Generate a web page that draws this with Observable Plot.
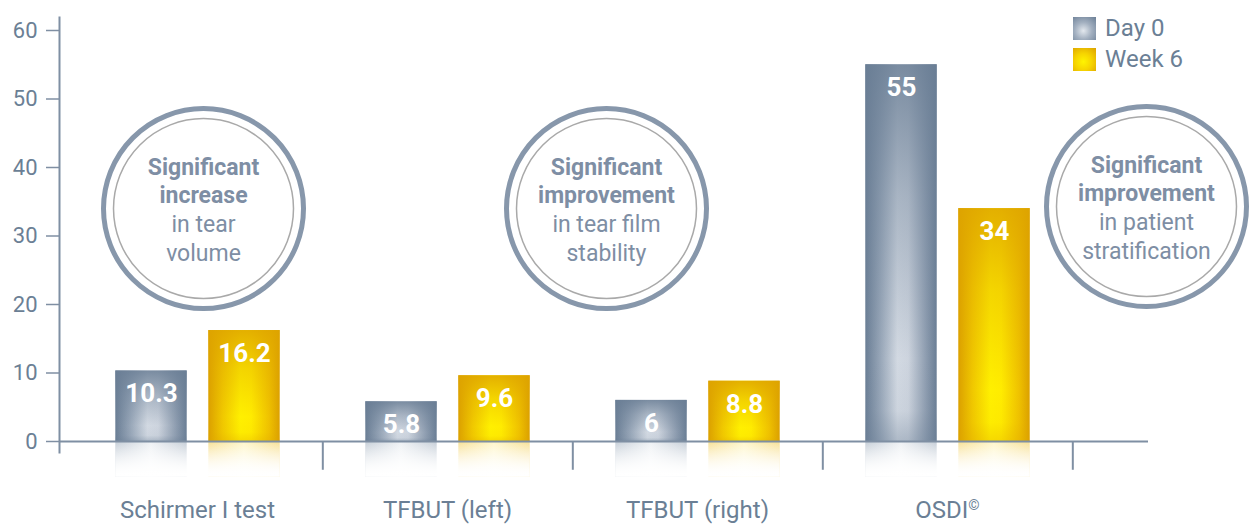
<!DOCTYPE html>
<html><head><meta charset="utf-8">
<script src="https://cdn.jsdelivr.net/npm/d3@7"></script>
<script src="https://cdn.jsdelivr.net/npm/@observablehq/plot@0.6"></script>
<style>
body{margin:0;background:#fff;font-family:Roboto,sans-serif;}
#wrap{position:relative;width:1257px;height:525px;}
#legend{position:absolute;left:1073px;top:17px;}
.item{display:flex;align-items:center;height:23px;margin-bottom:8px;font-size:24px;color:#6b7f95;line-height:23px;}
.sw{width:23px;height:23px;margin-right:9px;flex:none;}
</style></head><body><div id="wrap"><div id="legend"></div></div>
<script>
const groups = ["Schirmer I test", "TFBUT (left)", "TFBUT (right)", "OSDI©"];
const series = ["Day 0", "Week 6"];
const day0 = [10.3, 5.8, 6, 55];
const week6 = [16.2, 9.6, 8.8, 34];
const yTicks = [0, 10, 20, 30, 40, 50, 60];
const noteGroups = ["Schirmer I test", "TFBUT (left)", "OSDI©"];
const noteValues = [34, 34, 34.3];
const noteBold = ["Significant\nincrease", "Significant\nimprovement", "Significant\nimprovement"];
const noteText = ["in tear\nvolume", "in tear film\nstability", "in patient\nstratification"];

const rows = groups.flatMap((g, i) => [
  {group: g, series: series[0], value: day0[i]},
  {group: g, series: series[1], value: week6[i]}
]);
const rows0 = rows.filter(d => d.series === series[0]);
const rows1 = rows.filter(d => d.series === series[1]);
const notes = noteGroups.map((g, i) => ({group: g, value: noteValues[i], bold: noteBold[i], text: noteText[i]}));

// layout
const xRange = [71, 1073.5];
const bw = (xRange[1] - xRange[0]) / groups.length;
const half = bw / 2;
const off0 = [-82, -10];  // Day 0 bar edges relative to band center
const off1 = [11, 83];    // Week 6 bar edges relative to band center
const ins0 = {insetLeft: half + off0[0], insetRight: half - off0[1]};
const ins1 = {insetLeft: half + off1[0], insetRight: half - off1[1]};
const noteDx = [6, 159, 199];
const axisColor = "#7f8fa3";
const textColor = "#6b7f95";
const noteColor = "#7e8ea4";

const defs = () => {
  const d = d3.create("svg:defs");
  function lin(id, x2, y2, stops) {
    const g = d.append("linearGradient").attr("id", id)
      .attr("x1", 0).attr("y1", 0).attr("x2", x2).attr("y2", y2);
    stops.forEach(([o, c, a]) => g.append("stop").attr("offset", o).attr("stop-color", c).attr("stop-opacity", a ?? 1));
  }
  lin("g0", 1, 0, [[0, "#6a7e95"], [0.2, "#95a4b6"], [0.45, "#d2d9e2"], [0.6, "#cdd4de"], [0.85, "#8e9db0"], [1, "#6a7e95"]]);
  lin("v0", 0, 1, [[0, "#6a7e95", 0.85], [0.35, "#6a7e95", 0.4], [0.78, "#6a7e95", 0], [0.92, "#6a7e95", 0.05], [1, "#6a7e95", 0.35]]);
  lin("g1", 1, 0, [[0, "#dba000"], [0.2, "#f0c800"], [0.45, "#fff000"], [0.6, "#ffec00"], [0.85, "#efc200"], [1, "#dba000"]]);
  lin("v1", 0, 1, [[0, "#dea400", 0.85], [0.35, "#dea400", 0.35], [0.78, "#dea400", 0], [0.92, "#dea400", 0.05], [1, "#dea400", 0.3]]);
  lin("r0", 1, 0, [[0, "#c3ccd6"], [0.5, "#eef1f4"], [1, "#c3ccd6"]]);
  lin("r1", 1, 0, [[0, "#f7df90"], [0.5, "#fff6c8"], [1, "#f7df90"]]);
  lin("fade", 0, 1, [[0, "#ffffff", 0], [1, "#ffffff", 1]]);
  return d.node();
};

const noteMarks = notes.flatMap((n, i) => [
  Plot.dot([n], {x: "group", y: "value", dx: noteDx[i], r: 100, stroke: "#8797ab", strokeWidth: 5, fill: "white"}),
  Plot.dot([n], {x: "group", y: "value", dx: noteDx[i], r: 90, stroke: "#a9a9a9", strokeWidth: 1.5, fill: "none"}),
  Plot.text([n], {x: "group", y: "value", text: "bold", dx: noteDx[i], dy: -28.7, lineHeight: 1.25, fontSize: 23, fontWeight: "bold", fill: noteColor}),
  Plot.text([n], {x: "group", y: "value", text: "text", dx: noteDx[i], dy: 28.7, lineHeight: 1.25, fontSize: 23, fill: noteColor})
]);

const chart = Plot.plot({
  width: 1257,
  height: 525,
  marginLeft: 59,
  marginRight: 109,
  marginTop: 17,
  marginBottom: 73,
  style: {fontFamily: "Roboto, sans-serif", background: "white"},
  x: {type: "band", domain: groups, range: xRange, padding: 0, axis: null, label: null},
  y: {domain: [0, 60], range: [441, 30], axis: null, label: null},
  marks: [
    defs,
    // reflections
    Plot.barY(rows0, {x: "group", y1: 0, y2: -5.2, fill: "url(#r0)", ...ins0}),
    Plot.barY(rows1, {x: "group", y1: 0, y2: -5.2, fill: "url(#r1)", ...ins1}),
    Plot.barY(rows, {x: "group", y1: 0, y2: -5.2, fill: "url(#fade)", insetLeft: half + off0[0], insetRight: half - off1[1]}),
    // bars
    Plot.barY(rows0, {x: "group", y: "value", fill: "url(#g0)", ...ins0}),
    Plot.barY(rows0, {x: "group", y: "value", fill: "url(#v0)", ...ins0}),
    Plot.barY(rows1, {x: "group", y: "value", fill: "url(#g1)", ...ins1}),
    Plot.barY(rows1, {x: "group", y: "value", fill: "url(#v1)", ...ins1}),
    // value labels
    Plot.text(rows0, {x: "group", y: "value", text: d => String(d.value), dx: (off0[0] + off0[1]) / 2, dy: 23, fill: "white", fontWeight: "bold", fontSize: 26}),
    Plot.text(rows1, {x: "group", y: "value", text: d => String(d.value), dx: (off1[0] + off1[1]) / 2, dy: 23, fill: "white", fontWeight: "bold", fontSize: 26}),
    // axes
    Plot.frame({anchor: "left", stroke: axisColor, strokeWidth: 2}),
    Plot.ruleY([0], {stroke: axisColor, strokeWidth: 2}),
    Plot.ruleX(groups, {x: d => d, dx: half, y1: 0, y2: -4.2, stroke: axisColor, strokeWidth: 2}),
    Plot.axisY({ticks: yTicks, tickSize: 13, tickPadding: 9, fontSize: 22, color: textColor, strokeWidth: 1.5, stroke: axisColor, label: null}),
    Plot.axisX({tickSize: 0, tickPadding: 48, fontSize: 24, color: textColor, label: null}),
    ...noteMarks
  ]
});

// superscript copyright sign
d3.select(chart).selectAll("text").each(function() {
  if (this.textContent === "OSDI©" && this.children.length === 0) {
    const t = d3.select(this);
    t.text("OSDI");
    t.append("tspan").attr("font-size", "0.6em").attr("dy", "-0.55em").text("©");
  }
});

document.getElementById("wrap").prepend(chart);

const legend = d3.select("#legend");
const swatches = {
  "Day 0": "radial-gradient(circle at 45% 60%, #e3e8ee 0%, #a3b0c0 45%, #6a7e95 100%)",
  "Week 6": "radial-gradient(circle at 45% 60%, #fff400 0%, #f6d400 45%, #dba000 100%)"
};
series.forEach(s => {
  const it = legend.append("div").attr("class", "item");
  it.append("div").attr("class", "sw").style("background", swatches[s]);
  it.append("span").text(s);
});
</script></body></html>
